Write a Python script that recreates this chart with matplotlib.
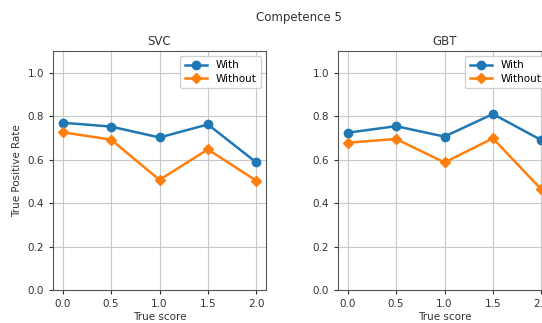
import matplotlib
matplotlib.use("Agg")
import matplotlib.pyplot as plt

scores = [0.0, 0.5, 1.0, 1.5, 2.0]
svc_with = [0.77, 0.752, 0.702, 0.762, 0.587]
svc_without = [0.726, 0.692, 0.507, 0.647, 0.503]
gbt_with = [0.724, 0.754, 0.706, 0.81, 0.69]
gbt_without = [0.678, 0.695, 0.587, 0.698, 0.463]

panels = [("SVC", svc_with, svc_without), ("GBT", gbt_with, gbt_without)]

fig = plt.figure(figsize=(5.42, 3.23), dpi=100)
fig.text(0.551, 0.945, "Competence 5", ha="center", va="center", fontsize=8.5, color="#333333")

# second panel runs off the right edge, like the cropped original
lefts = [53 / 542, 338 / 542]
for i, (name, w, wo) in enumerate(panels):
    ax = fig.add_axes([lefts[i], 33 / 323, 213 / 542, 239 / 323])
    ax.plot(scores, w, color="#1f77b4", marker="o", lw=1.8, ms=6, label="With")
    ax.plot(scores, wo, color="#ff7f0e", marker="D", lw=1.8, ms=5.5, label="Without")
    ax.set_ylim(0, 1.1)
    ax.set_xticks(scores)
    ax.set_yticks([0.0, 0.2, 0.4, 0.6, 0.8, 1.0])
    ax.grid(True, color="#c8c8c8", lw=0.8)
    ax.set_axisbelow(True)
    ax.set_title(name, fontsize=8.5, color="#333333", pad=4)
    ax.set_xlabel("True score", fontsize=7.5, color="#333333", labelpad=2)
    if i == 0:
        ax.set_ylabel("True Positive Rate", fontsize=7.5, color="#333333")
    ax.tick_params(labelsize=7.5, colors="#333333", length=3)
    for s in ax.spines.values():
        s.set_color("#555555")
    ax.legend(loc="upper right", fontsize=7.5, framealpha=0.9, borderpad=0.4,
              handlelength=2.2, labelspacing=0.3)

fig.savefig("out.png", dpi=100)
